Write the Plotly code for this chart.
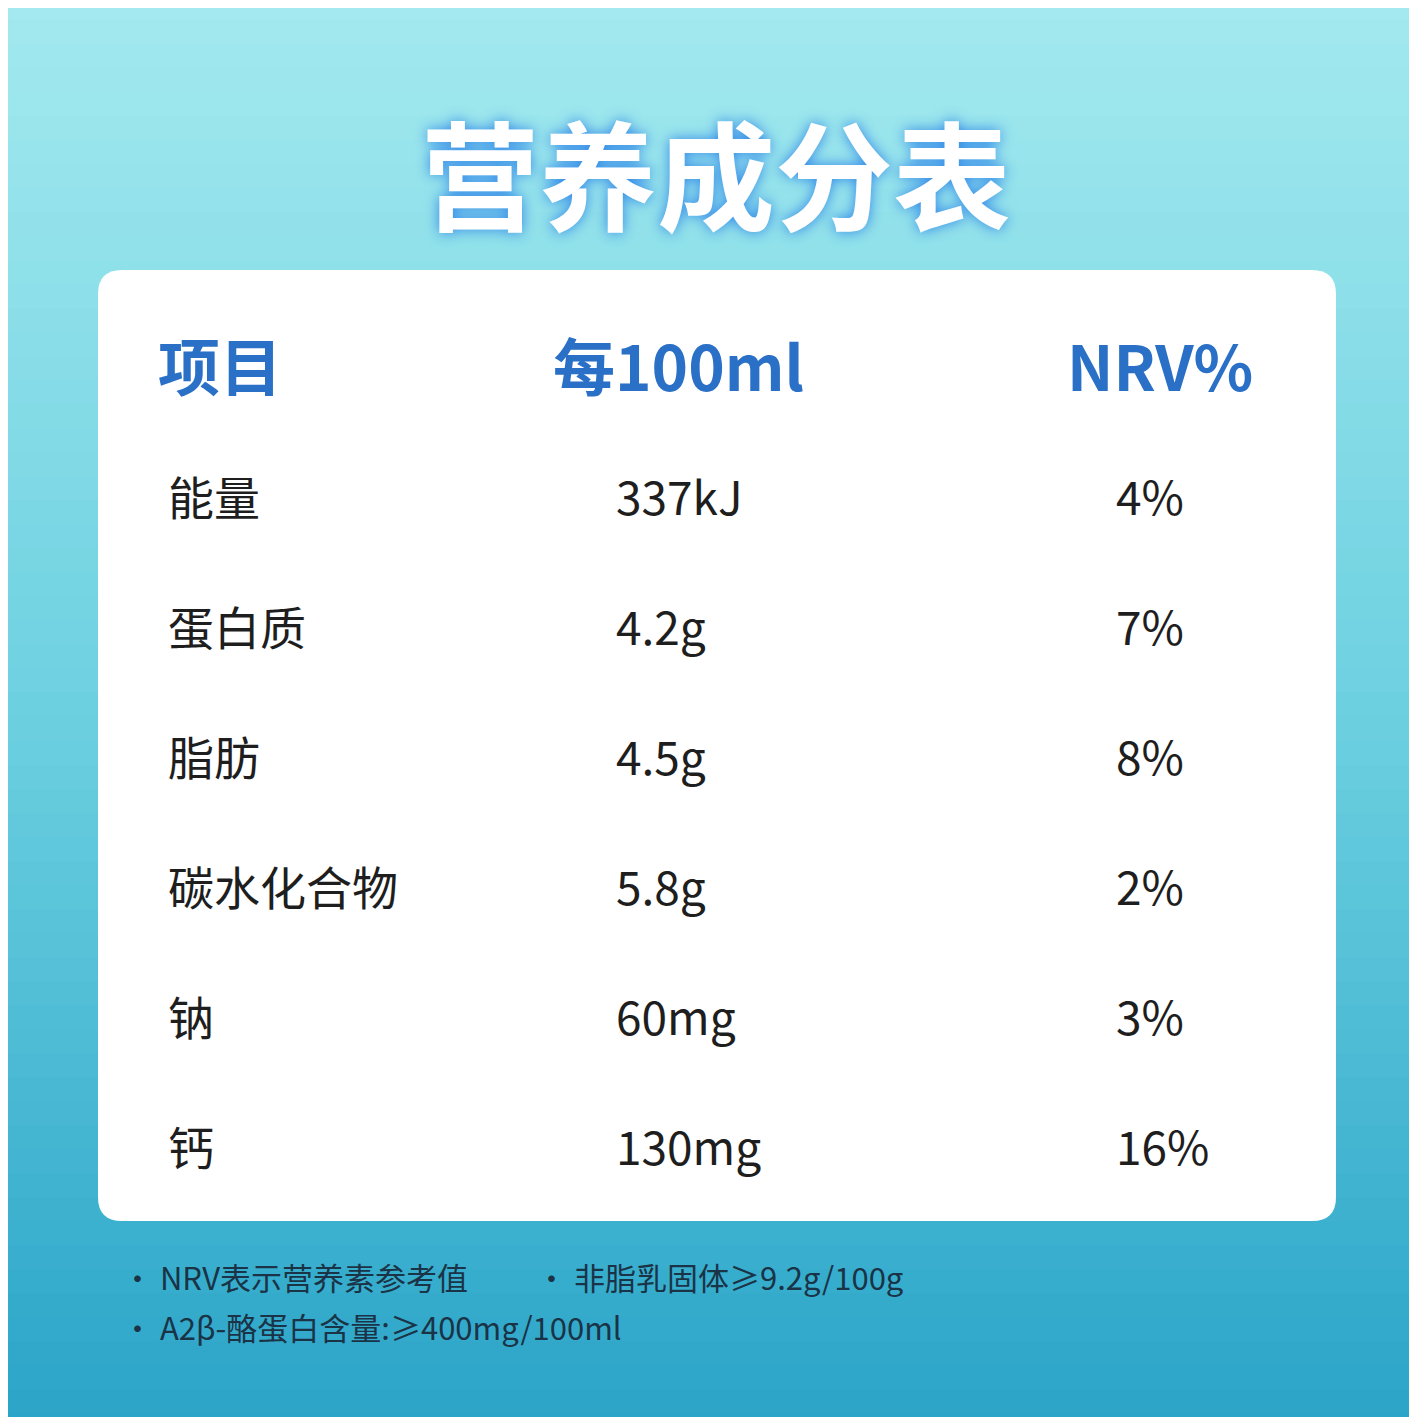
import plotly.graph_objects as go
import numpy as np

title = "营养成分表"
headers = ["项目", "每100ml", "NRV%"]
items = ["能量", "蛋白质", "脂肪", "碳水化合物", "钠", "钙"]
per100 = ["337kJ", "4.2g", "4.5g", "5.8g", "60mg", "130mg"]
nrv = ["4%", "7%", "8%", "2%", "3%", "16%"]
notes = [["· NRV表示营养素参考值", "· 非脂乳固体≥9.2g/100g"],
         ["· A2β-酪蛋白含量:≥400mg/100ml"]]

W = 1417
font = "Noto Sans CJK SC"

# background gradient
ys = np.linspace(0, W, 60)
fig = go.Figure(go.Heatmap(
    x=[0, W], y=ys, z=[[v, v] for v in ys],
    colorscale=[[0, "#a3e9ef"], [0.5, "#6cd0e0"], [1, "#2aa4c8"]],
    showscale=False, hoverinfo="skip"))

# white card
x0, x1, y0, y1, r = 90, 1328, 262, 1213, 24
path = (f"M{x0+r},{y0} L{x1-r},{y0} Q{x1},{y0} {x1},{y0+r} L{x1},{y1-r} Q{x1},{y1} {x1-r},{y1} "
        f"L{x0+r},{y1} Q{x0},{y1} {x0},{y1-r} L{x0},{y0+r} Q{x0},{y0} {x0+r},{y0} Z")
fig.add_shape(type="path", path=path, fillcolor="white", line_width=0, layer="above")

ann = []
ann.append(dict(x=708, y=162, text=f"<b>{title}</b>", xanchor="center",
                font=dict(size=118, color="white", family=font, shadow="0px 0px 14px #2f86e8")))

hx = [(148, "left"), (670, "center"), (1152, "center")]
for (x, anc), h in zip(hx, headers):
    ann.append(dict(x=x, y=356, text=f"<b>{h}</b>", xanchor=anc,
                    font=dict(size=62, color="#2a70c6", family=font)))

for i in range(len(items)):
    y = 487 + 130 * i
    for x, t in zip([158, 606, 1106], [items[i], per100[i], nrv[i]]):
        ann.append(dict(x=x, y=y, text=t, xanchor="left",
                        font=dict(size=46, color="#1e1e1e", family=font)))

for j, line in enumerate(notes):
    for k, t in enumerate(line):
        ann.append(dict(x=[112, 526][k], y=1268 + 50 * j, text=t, xanchor="left",
                        font=dict(size=31, color="#1a3346", family=font)))

for a in ann:
    a.update(xref="x", yref="y", showarrow=False, yanchor="middle")

fig.update_layout(width=W, height=W, margin=dict(l=0, r=0, t=0, b=0),
                  annotations=ann, paper_bgcolor="#6cd0e0",
                  xaxis=dict(range=[0, W], visible=False, fixedrange=True),
                  yaxis=dict(range=[W, 0], visible=False, fixedrange=True))
fig.write_html("out.html")
